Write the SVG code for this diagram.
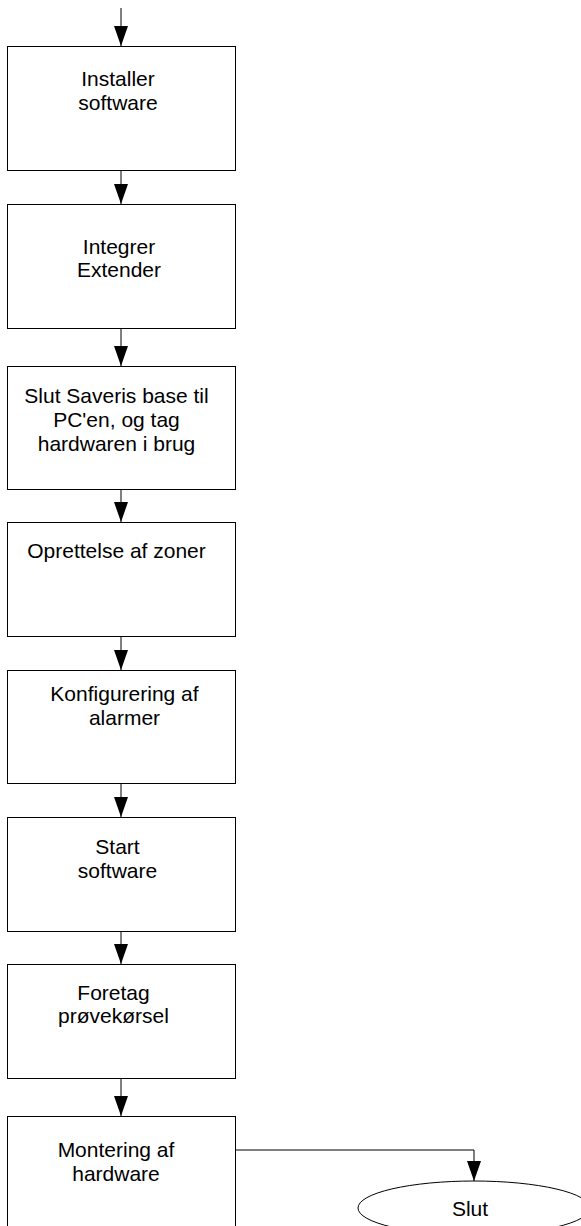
<svg xmlns="http://www.w3.org/2000/svg" width="581" height="1226" viewBox="0 0 581 1226">
  <defs>
    <marker id="arrow" markerUnits="userSpaceOnUse" markerWidth="20" markerHeight="14" refX="20" refY="7" orient="auto">
      <path d="M0,0 L20,7 L0,14 z" fill="#000"/>
    </marker>
    <style>
      .box { fill: #fff; stroke: #000; stroke-width: 1; }
      .term { fill: #fff; stroke: #000; stroke-width: 1; }
      .lbl { font-family: "Liberation Sans", Arial, sans-serif; font-size: 21px; fill: #000; text-anchor: middle; }
      .edge { fill: none; stroke: #000; stroke-width: 1; marker-end: url(#arrow); }
    </style>
  </defs>
  <rect width="581" height="1226" fill="#fff"/>

  <!-- connectors -->
  <g id="connectors">
    <path class="edge" d="M121,8 L121,46"/>
    <path class="edge" d="M121,170 L121,204"/>
    <path class="edge" d="M121,328 L121,366"/>
    <path class="edge" d="M121,489 L121,522"/>
    <path class="edge" d="M121,636 L121,670"/>
    <path class="edge" d="M121,783 L121,817"/>
    <path class="edge" d="M121,931 L121,964"/>
    <path class="edge" d="M121,1078 L121,1116"/>
    <path class="edge" d="M235,1150 L474,1150 L474,1181"/>
  </g>

  <!-- process steps -->
  <g id="installer-software">
    <rect class="box" x="7.5" y="46.5" width="228" height="124"/>
    <text class="lbl" x="118" y="86">Installer</text>
    <text class="lbl" x="118" y="110">software</text>
  </g>
  <g id="integrer-extender">
    <rect class="box" x="7.5" y="204.5" width="228" height="124"/>
    <text class="lbl" x="119" y="254">Integrer</text>
    <text class="lbl" x="119" y="277">Extender</text>
  </g>
  <g id="slut-saveris-base">
    <rect class="box" x="7.5" y="366.5" width="228" height="123"/>
    <text class="lbl" x="116.5" y="403">Slut Saveris base til</text>
    <text class="lbl" x="116.5" y="427">PC'en, og tag</text>
    <text class="lbl" x="116.5" y="451">hardwaren i brug</text>
  </g>
  <g id="oprettelse-zoner">
    <rect class="box" x="7.5" y="522.5" width="228" height="114"/>
    <text class="lbl" x="116.5" y="558">Oprettelse af zoner</text>
  </g>
  <g id="konfigurering-alarmer">
    <rect class="box" x="7.5" y="670.5" width="228" height="113"/>
    <text class="lbl" x="124.5" y="701">Konfigurering af</text>
    <text class="lbl" x="124.5" y="725">alarmer</text>
  </g>
  <g id="start-software">
    <rect class="box" x="7.5" y="817.5" width="228" height="114"/>
    <text class="lbl" x="117.5" y="854">Start</text>
    <text class="lbl" x="117.5" y="878">software</text>
  </g>
  <g id="foretag-proevekoersel">
    <rect class="box" x="7.5" y="964.5" width="228" height="114"/>
    <text class="lbl" x="113.5" y="1000">Foretag</text>
    <text class="lbl" x="113.5" y="1023">prøvekørsel</text>
  </g>
  <g id="montering-hardware">
    <rect class="box" x="7.5" y="1116.5" width="228" height="124"/>
    <text class="lbl" x="116" y="1157">Montering af</text>
    <text class="lbl" x="116" y="1181">hardware</text>
  </g>

  <!-- end terminal -->
  <g id="slut">
    <ellipse class="term" cx="474" cy="1208" rx="116" ry="27"/>
    <text class="lbl" x="470" y="1216">Slut</text>
  </g>
</svg>
